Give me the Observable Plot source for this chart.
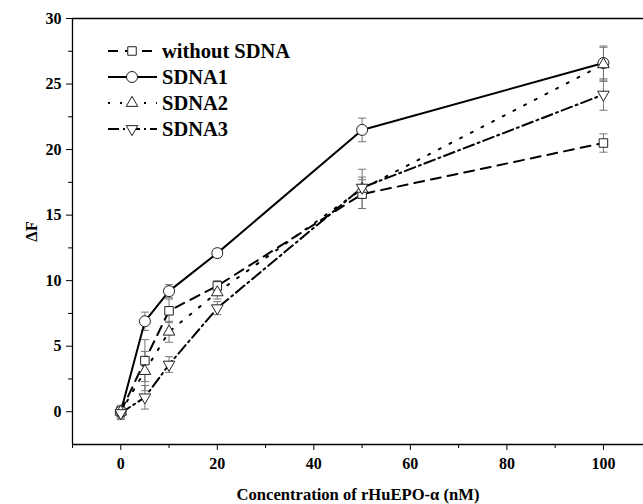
<!DOCTYPE html>
<html>
<head>
<meta charset="utf-8">
<script src="https://cdn.jsdelivr.net/npm/d3@7"></script>
<script src="https://cdn.jsdelivr.net/npm/@observablehq/plot@0.6"></script>
<style>
  html, body { margin: 0; padding: 0; background: #fff; }
  #wrap { position: relative; width: 643px; height: 504px; }
  #wrap svg.plot { font-family: "Liberation Serif", "Times New Roman", serif; font-weight: bold; font-size: 16px; }
  #wrap svg.plot g[aria-label$="axis label"] text { font-size: 16.6px; }
  #legend { position: absolute; left: 0; top: 0; pointer-events: none; }
  #legend text { font-family: "Liberation Serif", "Times New Roman", serif; font-weight: bold; font-size: 20.5px; }
</style>
</head>
<body>
<div id="wrap"></div>
<script>
// ---- data ----
const concentrations = [0, 5, 10, 20, 50, 100];
const seriesNames = ["without SDNA", "SDNA1", "SDNA2", "SDNA3"];
const withoutSDNA = [0.0, 3.9, 7.7, 9.6, 16.6, 20.5];
const withoutSDNAErr = [0.5, 1.6, 0.9, 0.4, 1.1, 0.7];
const sdna1 = [0.0, 6.9, 9.2, 12.1, 21.5, 26.6];
const sdna1Err = [0.4, 0.7, 0.5, 0.3, 0.9, 1.3];
const sdna2 = [0.0, 3.1, 6.1, 9.1, 17.0, 26.5];
const sdna2Err = [0.4, 1.5, 0.8, 0.5, 1.5, 1.3];
const sdna3 = [-0.1, 1.1, 3.6, 7.9, 17.1, 24.2];
const sdna3Err = [0.5, 0.9, 0.6, 0.5, 0.8, 1.2];
const xTicks = [0, 20, 40, 60, 80, 100];
const xMinorTicks = [-10, 10, 30, 50, 70, 90];
const yTicks = [0, 5, 10, 15, 20, 25, 30];
const yMinorTicks = [2.5, 7.5, 12.5, 17.5, 22.5, 27.5];

// ---- styles ----
const triangleDown = {
  draw(context, size) {
    const s3 = Math.sqrt(3);
    const y = -Math.sqrt(size / (s3 * 3));
    context.moveTo(0, -y * 2);
    context.lineTo(-s3 * y, y);
    context.lineTo(s3 * y, y);
    context.closePath();
  }
};
const capSymbol = {
  draw(context) { context.moveTo(-4, 0); context.lineTo(4, 0); }
};
const seriesValues = [withoutSDNA, sdna1, sdna2, sdna3];
const seriesErrs = [withoutSDNAErr, sdna1Err, sdna2Err, sdna3Err];
const symbols = ["square", "circle", "triangle", triangleDown];
const symbolR = [4.8, 5.5, 4.3, 4.3];
const dashes = ["10,7", null, "2,10", "11,4,2,4"];

const rows = [];
seriesNames.forEach((name, i) => {
  concentrations.forEach((c, j) => {
    rows.push({series: name, idx: i, x: c, y: seriesValues[i][j], lo: seriesValues[i][j] - seriesErrs[i][j], hi: seriesValues[i][j] + seriesErrs[i][j]});
  });
});

const marks = [];
// frame lines
marks.push(Plot.ruleY([30], {stroke: "#000", strokeWidth: 1.3}));
marks.push(Plot.ruleY([-2.5], {stroke: "#000", strokeWidth: 1.3}));
marks.push(Plot.ruleX([-10], {stroke: "#000", strokeWidth: 1.3}));
// axes
marks.push(Plot.axisX({ticks: xTicks, tickSize: 6, tickPadding: 7, label: "Concentration of rHuEPO-α (nM)", labelArrow: false, labelAnchor: "center", labelOffset: 55}));
marks.push(Plot.axisX({ticks: xMinorTicks, tickSize: 4, tickFormat: () => "", label: null}));
marks.push(Plot.axisY({ticks: yTicks, tickSize: 6, tickPadding: 5, label: "ΔF", labelArrow: false, labelAnchor: "center", labelOffset: 47}));
marks.push(Plot.axisY({ticks: yMinorTicks, tickSize: 4, tickFormat: () => "", label: null}));
// error bars
marks.push(Plot.link(rows, {x1: "x", x2: "x", y1: "lo", y2: "hi", stroke: "#777", strokeWidth: 1}));
marks.push(Plot.dot(rows, {x: "x", y: "lo", symbol: () => capSymbol, stroke: "#777", fill: "none", strokeWidth: 1}));
marks.push(Plot.dot(rows, {x: "x", y: "hi", symbol: () => capSymbol, stroke: "#777", fill: "none", strokeWidth: 1}));
// lines
seriesNames.forEach((name, i) => {
  marks.push(Plot.line(rows.filter(d => d.idx === i), {x: "x", y: "y", stroke: "#000", strokeWidth: 2, strokeDasharray: dashes[i] || undefined}));
});
// markers
seriesNames.forEach((name, i) => {
  marks.push(Plot.dot(rows.filter(d => d.idx === i), {x: "x", y: "y", symbol: () => symbols[i], r: symbolR[i], fill: "white", stroke: "#222", strokeWidth: 1}));
});

const chart = Plot.plot({
  width: 643,
  height: 504,
  marginLeft: 72,
  marginRight: 0,
  marginTop: 18,
  marginBottom: 60,
  x: {domain: [-10, 108.3]},
  y: {domain: [-2.5, 30]},
  symbol: {type: "identity"},
  className: "plot",
  marks
});
chart.classList.add("plot");
document.getElementById("wrap").appendChild(chart);

// ---- legend (inside plot, top-left) ----
const lg = d3.select("#wrap").append("svg").attr("id", "legend").attr("width", 643).attr("height", 504);
seriesNames.forEach((name, i) => {
  const yy = 51 + i * 26;
  const g = lg.append("g");
  g.append("line").attr("x1", 108).attr("x2", 157).attr("y1", yy).attr("y2", yy)
    .attr("stroke", "#000").attr("stroke-width", 2).attr("stroke-dasharray", dashes[i] || null);
  const sym = typeof symbols[i] === "string"
    ? {square: d3.symbolSquare, circle: d3.symbolCircle, triangle: d3.symbolTriangle}[symbols[i]]
    : symbols[i];
  g.append("path").attr("d", d3.symbol(sym, Math.PI * symbolR[i] * symbolR[i])()).attr("transform", `translate(132,${yy})`)
    .attr("fill", "white").attr("stroke", "#222").attr("stroke-width", 1);
  g.append("text").attr("x", 162).attr("y", yy).attr("dy", "0.35em").text(name);
});
</script>
</body>
</html>
